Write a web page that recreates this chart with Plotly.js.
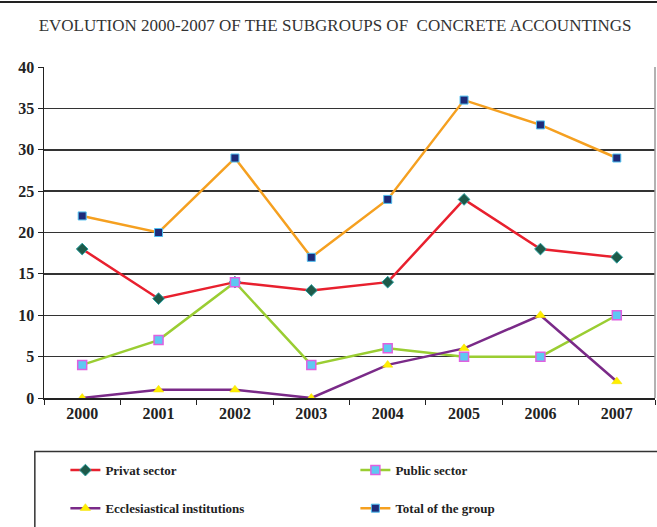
<!DOCTYPE html>
<html>
<head>
<meta charset="utf-8">
<script src="https://cdn.plot.ly/plotly-3.0.1.min.js"></script>
<style>html,body{margin:0;padding:0;background:#fff;}#chart{width:657px;height:527px;}</style>
</head>
<body>
<div id="chart"></div>
<script>
const years = ['2000','2001','2002','2003','2004','2005','2006','2007'];
const privatSector = [18, 12, 14, 13, 14, 24, 18, 17];
const publicSector = [4, 7, 14, 4, 6, 5, 5, 10];
const ecclesiastical = [0, 1, 1, 0, 4, 6, 10, 2];
const totalGroup = [22, 20, 29, 17, 24, 36, 33, 29];
const yTicks = [0, 5, 10, 15, 20, 25, 30, 35, 40];

const serif = 'Liberation Serif';

const traces = [
  {x: years, y: privatSector, name: 'Privat sector', mode: 'lines+markers', legend: 'legend',
   line: {color: '#e8202e', width: 2.5},
   marker: {symbol: 'diamond', size: 9, color: '#1e5a4a', line: {color: '#2aa0a0', width: 1}}},
  {x: years, y: publicSector, name: 'Public sector', mode: 'lines+markers', legend: 'legend',
   line: {color: '#9acd32', width: 2.5},
   marker: {symbol: 'square', size: 9, color: '#5ec8f2', line: {color: '#e060e0', width: 1.5}}},
  {x: years, y: ecclesiastical, name: 'Ecclesiastical institutions', mode: 'lines+markers', legend: 'legend2',
   line: {color: '#7a2a88', width: 2.5},
   marker: {symbol: 'triangle-up', size: 9, color: '#ffee00', line: {color: '#f0e000', width: 0.5}}},
  {x: years, y: totalGroup, name: 'Total of the group', mode: 'lines+markers', legend: 'legend2',
   line: {color: '#f5a020', width: 2.5},
   marker: {symbol: 'square', size: 8, color: '#1e2a78', line: {color: '#50c0f0', width: 1}}}
];

const legendCommon = {
  orientation: 'h', xanchor: 'left', yanchor: 'middle',
  font: {family: serif, size: 13, color: '#222', weight: 'bold'},
  entrywidth: 245, entrywidthmode: 'pixels', itemwidth: 30,
  bgcolor: 'rgba(0,0,0,0)', borderwidth: 0
};

const layout = {
  width: 657, height: 527,
  margin: {l: 44, r: 2, t: 67, b: 129},
  paper_bgcolor: '#fff', plot_bgcolor: '#fff',
  title: {text: 'EVOLUTION 2000-2007 OF THE SUBGROUPS OF  CONCRETE ACCOUNTINGS',
          font: {family: serif, size: 17, color: '#333'}, x: 0.51, xanchor: 'center', y: 0.952, yanchor: 'middle'},
  xaxis: {type: 'category', range: [-0.5, 7.5], tickson: 'boundaries', ticks: 'outside', ticklen: 5,
          tickcolor: '#222', showline: true, linecolor: '#222', linewidth: 1.5, showgrid: false,
          tickfont: {family: serif, size: 16, color: '#222', weight: 'bold'}, mirror: false, fixedrange: true},
  yaxis: {range: [0, 40], tickvals: yTicks, ticks: 'outside', ticklen: 5, tickcolor: '#222',
          showline: true, linecolor: '#222', linewidth: 1.5, showgrid: true, gridcolor: '#333', gridwidth: 1.5,
          zeroline: false, tickfont: {family: serif, size: 16, color: '#222', weight: 'bold'}, fixedrange: true},
  showlegend: true,
  legend: Object.assign({}, legendCommon, {x: 0.035, y: -0.218}),
  legend2: Object.assign({}, legendCommon, {x: 0.035, y: -0.333}),
  shapes: [
    {type: 'line', xref: 'paper', yref: 'paper', x0: 1, x1: 1, y0: 0, y1: 1, line: {color: '#999', width: 1.5}},
    {type: 'rect', xref: 'paper', yref: 'paper', x0: -0.015, x1: 1.02, y0: -0.162, y1: -0.42,
     line: {color: '#333', width: 1.5}, fillcolor: 'rgba(0,0,0,0)'},
    {type: 'line', xref: 'paper', yref: 'paper', x0: -0.075, x1: 1.01, y0: 1.196, y1: 1.196, line: {color: '#222', width: 2}}
  ]
};

Plotly.newPlot('chart', traces, layout, {displayModeBar: false, staticPlot: true});
</script>
</body>
</html>
